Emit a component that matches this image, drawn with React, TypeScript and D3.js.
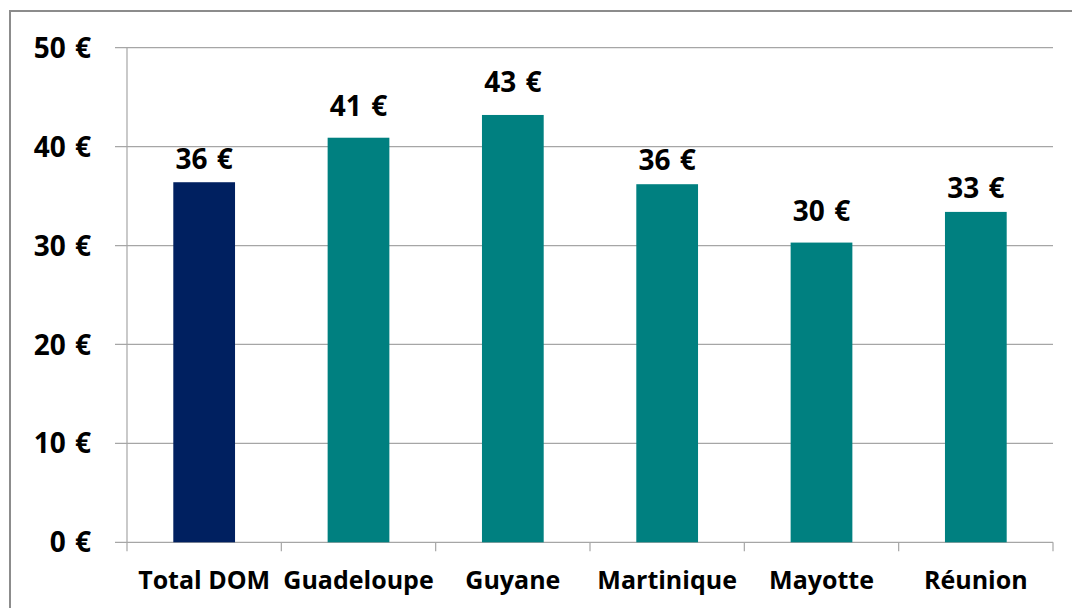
import React, { useEffect, useRef } from "react";
import * as d3 from "d3";

const categories: string[] = [
  "Total DOM",
  "Guadeloupe",
  "Guyane",
  "Martinique",
  "Mayotte",
  "Réunion",
];
const values: number[] = [36.4, 40.9, 43.2, 36.2, 30.3, 33.4];
const barColors: string[] = [
  "#002060",
  "#008080",
  "#008080",
  "#008080",
  "#008080",
  "#008080",
];
const yTicks: number[] = [0, 10, 20, 30, 40, 50];

const WIDTH = 1072;
const HEIGHT = 608;
const FONT = "'Open Sans', 'Noto Sans', sans-serif";

// gap between bar top and label baseline, as placed in the original
const labelGaps = [13, 22, 23, 14, 22, 14];

const App: React.FC = () => {
  const svgRef = useRef<SVGSVGElement | null>(null);

  useEffect(() => {
    if (!svgRef.current) return;
    const svg = d3.select(svgRef.current);
    svg.selectAll("*").remove();

    // plot area, in page pixels
    const left = 127;
    const right = 1053;
    const top = 47.7;
    const bottom = 542.3;

    // outer chart border (runs off the right/bottom edge)
    svg
      .append("rect")
      .attr("x", 10)
      .attr("y", 11)
      .attr("width", WIDTH + 20)
      .attr("height", HEIGHT + 20)
      .attr("fill", "white")
      .attr("stroke", "#8c8c8c")
      .attr("stroke-width", 2);

    const x = d3
      .scaleBand<string>()
      .domain(categories)
      .range([left, right])
      .paddingInner(0.6)
      .paddingOuter(0.3);

    const y = d3.scaleLinear().domain([0, 50]).range([bottom, top]);

    // gridlines + y labels
    const yAxis = svg.append("g");
    yAxis
      .selectAll("line")
      .data(yTicks)
      .join("line")
      .attr("x1", left - 12)
      .attr("x2", right)
      .attr("y1", (d) => y(d))
      .attr("y2", (d) => y(d))
      .attr("stroke", "#a6a6a6")
      .attr("stroke-width", 1.2);

    yAxis
      .selectAll("text")
      .data(yTicks)
      .join("text")
      .attr("x", 91)
      .attr("y", (d) => y(d))
      .attr("dy", "0.36em")
      .attr("text-anchor", "end")
      .attr("font-family", FONT)
      .attr("font-weight", "bold")
      .attr("font-size", 28)
      .attr("word-spacing", 2)
      .attr("fill", "#000")
      .text((d) => `${d} €`);

    // vertical axis line
    svg
      .append("line")
      .attr("x1", left)
      .attr("x2", left)
      .attr("y1", top)
      .attr("y2", bottom)
      .attr("stroke", "#a6a6a6")
      .attr("stroke-width", 1.2);

    // bars
    svg
      .append("g")
      .selectAll("rect")
      .data(values)
      .join("rect")
      .attr("x", (_, i) => x(categories[i]) || 0)
      .attr("y", (d) => y(d))
      .attr("width", x.bandwidth())
      .attr("height", (d) => bottom - y(d))
      .attr("fill", (_, i) => barColors[i]);

    // value labels
    svg
      .append("g")
      .selectAll("text")
      .data(values)
      .join("text")
      .attr("x", (_, i) => (x(categories[i]) || 0) + x.bandwidth() / 2)
      .attr("y", (d, i) => y(d) - labelGaps[i])
      .attr("text-anchor", "middle")
      .attr("font-family", FONT)
      .attr("font-weight", "bold")
      .attr("font-size", 28)
      .attr("word-spacing", 2)
      .attr("fill", "#000")
      .text((d) => `${Math.round(d)} €`);

    // category ticks on the x axis
    const step = x.step();
    const tickXs = d3.range(categories.length + 1).map((i) => left + i * step);
    svg
      .append("g")
      .selectAll("line")
      .data(tickXs)
      .join("line")
      .attr("x1", (d) => d)
      .attr("x2", (d) => d)
      .attr("y1", bottom)
      .attr("y2", bottom + 9)
      .attr("stroke", "#a6a6a6")
      .attr("stroke-width", 1.2);

    // category labels
    svg
      .append("g")
      .selectAll("text")
      .data(categories)
      .join("text")
      .attr("x", (d) => (x(d) || 0) + x.bandwidth() / 2)
      .attr("y", 589)
      .attr("text-anchor", "middle")
      .attr("font-family", FONT)
      .attr("font-weight", "bold")
      .attr("font-size", 25)
      .attr("fill", "#000")
      .text((d) => d);
  }, []);

  return (
    <svg
      ref={svgRef}
      width={WIDTH}
      height={HEIGHT}
      style={{ position: "absolute", left: 0, top: 0, background: "white" }}
    ></svg>
  );
};

export default App;
